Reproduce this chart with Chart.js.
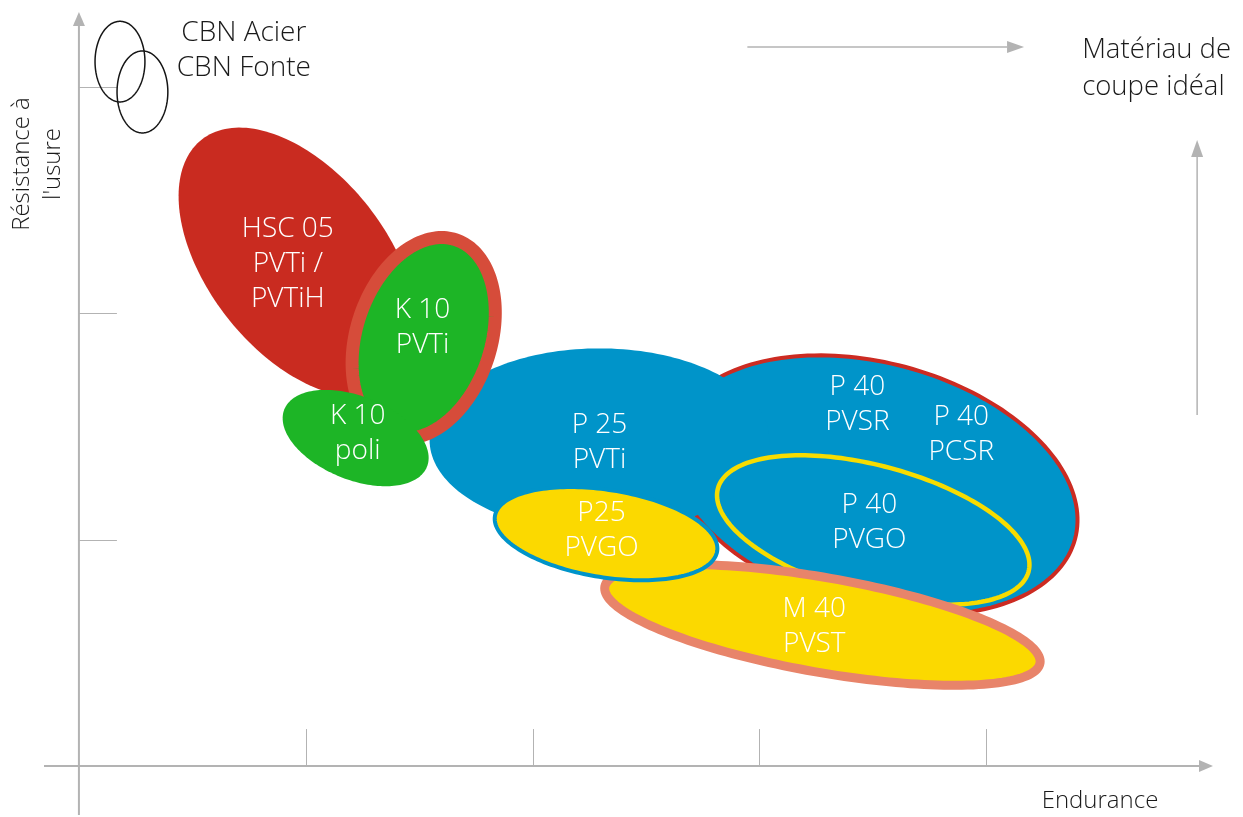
<!DOCTYPE html>
<html>
<head>
<meta charset="utf-8">
<script src="https://cdn.jsdelivr.net/npm/chart.js@4.4.1/dist/chart.umd.min.js"></script>
<style>
  html, body { margin: 0; padding: 0; background: #fff; }
  #wrap { width: 1243px; height: 817px; }
</style>
</head>
<body>
<div id="wrap"><canvas id="myChart" width="1243" height="817"></canvas></div>
<script>
// Nuances, dans l'ordre de dessin
const nuances = ["CBN Acier", "CBN Fonte", "HSC 05", "P 40", "P 25 PVTi", "P 40 PVGO", "M 40 PVST", "P25 PVGO", "K 10 PVTi", "K 10 poli"];
// Centre de chaque zone (endurance / résistance à l'usure)
const endurance  = [0.181, 0.280, 0.965, 3.505, 2.295, 3.502, 3.278, 2.324, 1.520, 1.220];
const resistance = [3.110, 2.976, 2.225, 1.240, 1.439, 1.042, 0.623, 1.026, 1.890, 1.448];
// Étendue de chaque zone (demi-axes) et inclinaison en degrés
const etendueA    = [0.110, 0.112, 0.687, 0.918, 0.749, 0.709, 0.974, 0.496, 0.456, 0.339];
const etendueB    = [0.178, 0.181, 0.396, 0.540, 0.405, 0.284, 0.209, 0.193, 0.297, 0.184];
const inclinaison = [0, 0, -52, -15, 0, -15, -10, -9, 72, -22];

// Étiquettes placées dans le graphique
const etiquettes  = ["CBN Acier\nCBN Fonte", "HSC 05\nPVTi /\nPVTiH", "K 10\nPVTi", "K 10\npoli", "P 25\nPVTi", "P 40\nPVSR", "P 40\nPCSR", "P 40\nPVGO", "P25\nPVGO", "M 40\nPVST"];
const etiquetteX  = [0.727, 0.921, 1.515, 1.229, 2.295, 3.432, 3.890, 3.485, 2.304, 3.242];
const etiquetteY  = [3.159, 2.216, 1.934, 1.468, 1.428, 1.596, 1.464, 1.073, 1.042, 0.616];

// Graduations des axes
const ticksX = [1, 2, 3, 4];
const ticksY = [1, 2, 3];

// Styles (remplissage, contour, épaisseur)
const styles = [
    { fill: null,      stroke: "#151515", width: 1.5 },
    { fill: null,      stroke: "#151515", width: 1.5 },
    { fill: "#c92b20", stroke: null,      width: 0 },
    { fill: "#0094c9", stroke: "#cc2b22", width: 4 },
    { fill: "#0094c9", stroke: null,      width: 0 },
    { fill: null,      stroke: "#f7dc00", width: 4.5 },
    { fill: "#fbd900", stroke: "#e8846a", width: 9 },
    { fill: "#fbd900", stroke: "#0094c9", width: 4 },
    { fill: "#1db526", stroke: "#d64c3a", width: 13 },
    { fill: "#1db526", stroke: null,      width: 0 }
];
const couleurEtiquette = ["#1a1a1a", "#fff", "#fff", "#fff", "#fff", "#fff", "#fff", "#fff", "#fff", "#fff"];
const gris = "#b3b3b3";
const police = '"Open Sans", "Noto Sans", sans-serif';

// Tracer une ellipse dans l'espace des données
function ellipsePath(ctx, xs, ys, i) {
    const al = inclinaison[i] * Math.PI / 180;
    ctx.beginPath();
    for (let k = 0; k <= 180; k++) {
        const t = k / 180 * Math.PI * 2;
        const dx = etendueA[i] * Math.cos(t) * Math.cos(al) - etendueB[i] * Math.sin(t) * Math.sin(al);
        const dy = etendueA[i] * Math.cos(t) * Math.sin(al) + etendueB[i] * Math.sin(t) * Math.cos(al);
        const px = xs.getPixelForValue(endurance[i] + dx);
        const py = ys.getPixelForValue(resistance[i] + dy);
        if (k === 0) ctx.moveTo(px, py); else ctx.lineTo(px, py);
    }
    ctx.closePath();
}

function fleche(ctx, x1, y1, x2, y2, lw, len, half) {
    const ang = Math.atan2(y2 - y1, x2 - x1);
    const bx = x2 - Math.cos(ang) * len, by = y2 - Math.sin(ang) * len;
    ctx.strokeStyle = gris;
    ctx.fillStyle = gris;
    ctx.lineWidth = lw;
    ctx.beginPath();
    ctx.moveTo(x1, y1);
    ctx.lineTo(bx, by);
    ctx.stroke();
    ctx.beginPath();
    ctx.moveTo(x2, y2);
    ctx.lineTo(bx - Math.sin(ang) * half, by + Math.cos(ang) * half);
    ctx.lineTo(bx + Math.sin(ang) * half, by - Math.cos(ang) * half);
    ctx.closePath();
    ctx.fill();
}

function texte(ctx, str, x, y, lh, align) {
    const lignes = str.split("\n");
    const y0 = y - (lignes.length - 1) * lh / 2;
    ctx.textAlign = align;
    ctx.textBaseline = "middle";
    lignes.forEach((l, j) => ctx.fillText(l, x, y0 + j * lh));
}

const dessinPlugin = {
    id: "dessin",
    afterDatasetsDraw(chart) {
        const ctx = chart.ctx;
        const xs = chart.scales.x, ys = chart.scales.y;
        const x0 = xs.getPixelForValue(0), y0 = ys.getPixelForValue(0);
        ctx.save();
        // axes
        ctx.strokeStyle = gris;
        ctx.lineWidth = 1;
        ticksX.forEach(v => {
            const px = Math.round(xs.getPixelForValue(v)) + 0.5;
            ctx.beginPath(); ctx.moveTo(px, y0); ctx.lineTo(px, y0 - 37); ctx.stroke();
        });
        ticksY.forEach(v => {
            const py = Math.round(ys.getPixelForValue(v)) + 0.5;
            ctx.beginPath(); ctx.moveTo(x0, py); ctx.lineTo(x0 + 38, py); ctx.stroke();
        });
        fleche(ctx, xs.left, y0, xs.right, y0, 2, 14, 6);
        fleche(ctx, x0, ys.bottom, x0, ys.top, 2, 14, 6);
        // flèches "matériau idéal"
        fleche(ctx, xs.getPixelForValue(2.947), ys.getPixelForValue(3.174), xs.getPixelForValue(4.167), ys.getPixelForValue(3.174), 1.5, 17, 6);
        fleche(ctx, xs.getPixelForValue(4.930), ys.getPixelForValue(1.550), xs.getPixelForValue(4.930), ys.getPixelForValue(2.764), 1.5, 17, 6);

        // zones
        nuances.forEach((n, i) => {
            const s = styles[i];
            ellipsePath(ctx, xs, ys, i);
            if (s.fill) { ctx.fillStyle = s.fill; ctx.fill(); }
            if (s.stroke) { ctx.strokeStyle = s.stroke; ctx.lineWidth = s.width; ctx.stroke(); }
        });

        // étiquettes
        ctx.font = "300 28px " + police;
        etiquettes.forEach((e, i) => {
            ctx.fillStyle = couleurEtiquette[i];
            texte(ctx, e, xs.getPixelForValue(etiquetteX[i]), ys.getPixelForValue(etiquetteY[i]), 35, "center");
        });
        ctx.fillStyle = "#1a1a1a";
        ctx.font = "300 27.5px " + police;
        texte(ctx, "Matériau de\ncoupe idéal", xs.getPixelForValue(4.423), ys.getPixelForValue(3.080), 37, "left");

        // titres des axes
        ctx.font = "300 24px " + police;
        texte(ctx, "Endurance", 1100, 801, 30, "center");
        ctx.translate(38, 164);
        ctx.rotate(-Math.PI / 2);
        texte(ctx, "Résistance à\nl'usure", 0, 0, 31, "center");
        ctx.restore();
    }
};

new Chart(document.getElementById("myChart"), {
    type: "scatter",
    data: {
        datasets: nuances.map((n, i) => ({
            label: n,
            data: [{ x: endurance[i], y: resistance[i] }],
            pointRadius: 0,
            backgroundColor: styles[i].fill || styles[i].stroke
        }))
    },
    options: {
        responsive: false,
        animation: false,
        layout: { padding: { left: 44, right: 30, top: 12, bottom: 2 } },
        plugins: { legend: { display: false }, tooltip: { enabled: false } },
        scales: {
            x: { type: "linear", min: -0.154, max: 5, display: false },
            y: { type: "linear", min: -0.216, max: 3.329, display: false }
        }
    },
    plugins: [dessinPlugin]
});
</script>
</body>
</html>
